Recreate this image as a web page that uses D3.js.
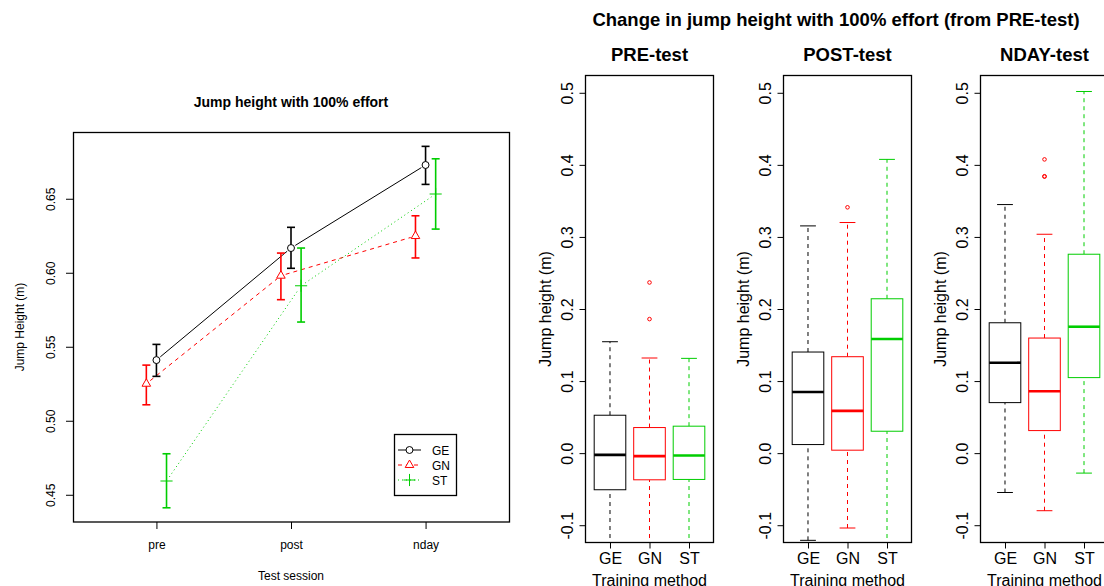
<!DOCTYPE html>
<html>
<head>
<meta charset="utf-8">
<script src="https://cdn.jsdelivr.net/npm/d3@7"></script>
<style>
body { margin: 0; background: #fff; }
svg { display: block; font-family: "Liberation Sans", Arial, sans-serif; }
</style>
</head>
<body>
<svg id="chart" width="1104" height="586"></svg>
<script>
// ---- left plot: mean jump height per session, with error bars ----
const sessions = ["pre", "post", "nday"];
const groups = ["GE", "GN", "ST"];
const meanGE = [0.541, 0.6167, 0.6728];
const loGE = [0.530, 0.603, 0.6597];
const hiGE = [0.5516, 0.6307, 0.6854];
const meanGN = [0.525, 0.598, 0.6248];
const loGN = [0.5108, 0.5818, 0.610];
const hiGN = [0.5376, 0.6133, 0.6385];
const meanST = [0.4593, 0.5912, 0.6532];
const loST = [0.4412, 0.5667, 0.6295];
const hiST = [0.4777, 0.6167, 0.677];
const yTicksLeft = [0.45, 0.50, 0.55, 0.60, 0.65];

// ---- right panels: boxplot stats [low whisker, q1, median, q3, high whisker] ----
const tests = ["PRE-test", "POST-test", "NDAY-test"];
const statsPre = [[-0.14, -0.0508, -0.0024, 0.0526, 0.1546],
                  [-0.14, -0.037, -0.0042, 0.0355, 0.132],
                  [-0.14, -0.0365, -0.0033, 0.0374, 0.1315]];
const outPre = [[], [0.186, 0.2368], []];
const statsPost = [[-0.121, 0.0119, 0.0849, 0.1403, 0.3153],
                   [-0.1039, 0.0041, 0.0586, 0.1338, 0.32],
                   [-0.14, 0.0304, 0.1583, 0.2142, 0.4076]];
const outPost = [[], [0.3411], []];
const statsNday = [[-0.0546, 0.0701, 0.1255, 0.1809, 0.3449],
                   [-0.0799, 0.0313, 0.0858, 0.1597, 0.3037],
                   [-0.0277, 0.1048, 0.1754, 0.276, 0.5018]];
const outNday = [[], [0.3837, 0.3842, 0.4076], []];
const yTicksRight = [-0.1, 0, 0.1, 0.2, 0.3, 0.4, 0.5];

const colors = ["#000000", "#ff0000", "#00cd00"];
const dashes = [null, "4,4", "1,3"];

let svg = d3.select("svg#chart");
svg.append("rect").attr("width", 1104).attr("height", 586).attr("fill", "#fff");

// ================= left plot =================
let xL = d3.scaleLinear().domain([0.38, 3.62]).range([73, 509]),
    yL = d3.scaleLinear().domain([0.4316, 0.6951]).range([522, 132]);
const offsets = [0, -0.075, 0.075];
const means = [meanGE, meanGN, meanST],
      los = [loGE, loGN, loST],
      his = [hiGE, hiGN, hiST];

let gL = svg.append("g");

// x axis
let axX = gL.append("g").attr("transform", "translate(0,522)")
    .call(d3.axisBottom(xL).tickValues([1, 2, 3]).tickFormat(d => sessions[d - 1]).tickSize(7))
    .attr("font-family", null).attr("font-size", null);
axX.select(".domain").remove();
axX.selectAll("text").attr("y", 27).attr("dy", 0).style("font-size", "12px");

// y axis (labels parallel to axis like R)
let axY = gL.append("g").attr("transform", "translate(73,0)")
    .call(d3.axisLeft(yL).tickValues(yTicksLeft).tickFormat(d => d.toFixed(2)).tickSize(7))
    .attr("font-family", null).attr("font-size", null);
axY.select(".domain").remove();
axY.selectAll("text")
    .attr("x", 0).attr("y", -18.5).attr("dy", 0)
    .attr("transform", "rotate(-90)")
    .attr("text-anchor", "middle")
    .style("font-size", "12px");

// lines between points, leaving a gap around each point (type = "b")
let gap = 5;
means.forEach((m, k) => {
    let pts = m.map((v, j) => [xL(j + 1 + offsets[k]), yL(v)]);
    for (let j = 0; j < pts.length - 1; j++) {
        let [x0, y0] = pts[j], [x1, y1] = pts[j + 1];
        let len = Math.hypot(x1 - x0, y1 - y0),
            ux = (x1 - x0) / len, uy = (y1 - y0) / len;
        gL.append("line")
            .attr("x1", x0 + ux * gap).attr("y1", y0 + uy * gap)
            .attr("x2", x1 - ux * gap).attr("y2", y1 - uy * gap)
            .attr("stroke", colors[k]).attr("stroke-width", 1)
            .attr("stroke-dasharray", dashes[k]);
    }
});

// error bars
means.forEach((m, k) => {
    m.forEach((v, j) => {
        let cx = xL(j + 1 + offsets[k]);
        let eb = gL.append("g").attr("stroke", colors[k]).attr("stroke-width", 1.6);
        eb.append("line").attr("x1", cx).attr("x2", cx).attr("y1", yL(los[k][j])).attr("y2", yL(his[k][j]));
        eb.append("line").attr("x1", cx - 4).attr("x2", cx + 4).attr("y1", yL(los[k][j])).attr("y2", yL(los[k][j]));
        eb.append("line").attr("x1", cx - 4).attr("x2", cx + 4).attr("y1", yL(his[k][j])).attr("y2", yL(his[k][j]));
    });
});

// point symbols
const symbols = [d3.symbol().type(d3.symbolCircle).size(38),
                 d3.symbol().type(d3.symbolTriangle).size(32),
                 d3.symbol().type(d3.symbolPlus).size(50)];
means.forEach((m, k) => {
    gL.selectAll(".pt" + k)
        .data(m)
        .enter()
        .append("path")
        .attr("class", "pt" + k)
        .attr("d", symbols[k]())
        .attr("transform", (d, j) => `translate(${xL(j + 1 + offsets[k])},${yL(d)})`)
        .attr("fill", "#fff")
        .attr("stroke", colors[k])
        .attr("stroke-width", 1);
});

// frame
gL.append("rect").attr("x", 73.5).attr("y", 132.5).attr("width", 436).attr("height", 389.5)
    .attr("fill", "none").attr("stroke", "#000").attr("stroke-width", 1.3);

// titles
gL.append("text").attr("x", 291).attr("y", 107).attr("text-anchor", "middle")
    .style("font-size", "14px").style("font-weight", "bold").text("Jump height with 100% effort");
gL.append("text").attr("x", 291).attr("y", 580).attr("text-anchor", "middle")
    .style("font-size", "12px").text("Test session");
gL.append("text").attr("transform", "translate(24,327) rotate(-90)").attr("text-anchor", "middle")
    .style("font-size", "12px").text("Jump Height (m)");

// legend
let leg = gL.append("g");
leg.append("rect").attr("x", 394.5).attr("y", 434.5).attr("width", 62).attr("height", 61)
    .attr("fill", "#fff").attr("stroke", "#000").attr("stroke-width", 1.3);
groups.forEach((name, k) => {
    let ly = 450 + k * 15;
    leg.append("line").attr("x1", 398).attr("x2", 421).attr("y1", ly).attr("y2", ly)
        .attr("stroke", colors[k]).attr("stroke-dasharray", dashes[k]);
    leg.append("path").attr("d", symbols[k]()).attr("transform", `translate(409.5,${ly})`)
        .attr("fill", "#fff").attr("stroke", colors[k]);
    leg.append("text").attr("x", 432).attr("y", ly + 4.5).style("font-size", "12px").text(name);
});

// ================= right panels =================
svg.append("text").attr("x", 836).attr("y", 25.5).attr("text-anchor", "middle")
    .style("font-size", "18.5px").style("font-weight", "bold")
    .text("Change in jump height with 100% effort (from PRE-test)");

const panelLeft = [585.5, 783.5, 980.5];
const statsAll = [statsPre, statsPost, statsNday];
const outAll = [outPre, outPost, outNday];

tests.forEach((title, i) => {
    let x = d3.scaleLinear().domain([0.38, 3.62]).range([panelLeft[i], panelLeft[i] + 128]),
        y = d3.scaleLinear().domain([-0.124, 0.524]).range([542.5, 75.5]);
    let g = svg.append("g");

    g.append("clipPath").attr("id", "clip" + i)
        .append("rect").attr("x", x.range()[0]).attr("y", y.range()[1])
        .attr("width", 128).attr("height", 467);

    let plot = g.append("g").attr("clip-path", `url(#clip${i})`);
    statsAll[i].forEach((s, k) => {
        let pos = k + 1, c = colors[k];
        let b = plot.append("g").attr("stroke", c).attr("fill", "none");
        b.append("line").attr("x1", x(pos)).attr("x2", x(pos)).attr("y1", y(s[0])).attr("y2", y(s[1]))
            .attr("stroke-dasharray", "4,4");
        b.append("line").attr("x1", x(pos)).attr("x2", x(pos)).attr("y1", y(s[3])).attr("y2", y(s[4]))
            .attr("stroke-dasharray", "4,4");
        b.append("line").attr("x1", x(pos - 0.2)).attr("x2", x(pos + 0.2)).attr("y1", y(s[0])).attr("y2", y(s[0]));
        b.append("line").attr("x1", x(pos - 0.2)).attr("x2", x(pos + 0.2)).attr("y1", y(s[4])).attr("y2", y(s[4]));
        b.append("rect").attr("x", x(pos - 0.4)).attr("y", y(s[3]))
            .attr("width", x(pos + 0.4) - x(pos - 0.4)).attr("height", y(s[1]) - y(s[3]))
            .attr("fill", "#fff");
        b.append("line").attr("x1", x(pos - 0.4)).attr("x2", x(pos + 0.4)).attr("y1", y(s[2])).attr("y2", y(s[2]))
            .attr("stroke-width", 2.6);
        b.selectAll("circle")
            .data(outAll[i][k])
            .enter()
            .append("circle")
            .attr("cx", x(pos)).attr("cy", d => y(d)).attr("r", 1.8);
    });

    // axes
    let ax = g.append("g").attr("transform", "translate(0,542.5)")
        .call(d3.axisBottom(x).tickValues([1, 2, 3]).tickFormat(d => groups[d - 1]).tickSize(6))
        .attr("font-family", null).attr("font-size", null);
    ax.select(".domain").remove();
    ax.selectAll("text").attr("y", 21).attr("dy", 0).style("font-size", "16px");

    let ay = g.append("g").attr("transform", `translate(${x.range()[0]},0)`)
        .call(d3.axisLeft(y).tickValues(yTicksRight).tickFormat(d => d.toFixed(1)).tickSize(6))
        .attr("font-family", null).attr("font-size", null);
    ay.select(".domain").remove();
    ay.selectAll("text")
        .attr("x", 0).attr("y", -12.5).attr("dy", 0)
        .attr("transform", "rotate(-90)")
        .attr("text-anchor", "middle")
        .style("font-size", "16px");

    g.append("rect").attr("x", x.range()[0]).attr("y", 75.5).attr("width", 128).attr("height", 467)
        .attr("fill", "none").attr("stroke", "#000").attr("stroke-width", 1.3);

    let cx = x.range()[0] + 64;
    g.append("text").attr("x", cx).attr("y", 60.7).attr("text-anchor", "middle")
        .style("font-size", "18.5px").style("font-weight", "bold").text(title);
    g.append("text").attr("x", cx).attr("y", 585.5).attr("text-anchor", "middle")
        .style("font-size", "16px").text("Training method");
    g.append("text").attr("transform", `translate(${x.range()[0] - 35},309) rotate(-90)`)
        .attr("text-anchor", "middle").style("font-size", "16px").text("Jump height (m)");
});
</script>
</body>
</html>
